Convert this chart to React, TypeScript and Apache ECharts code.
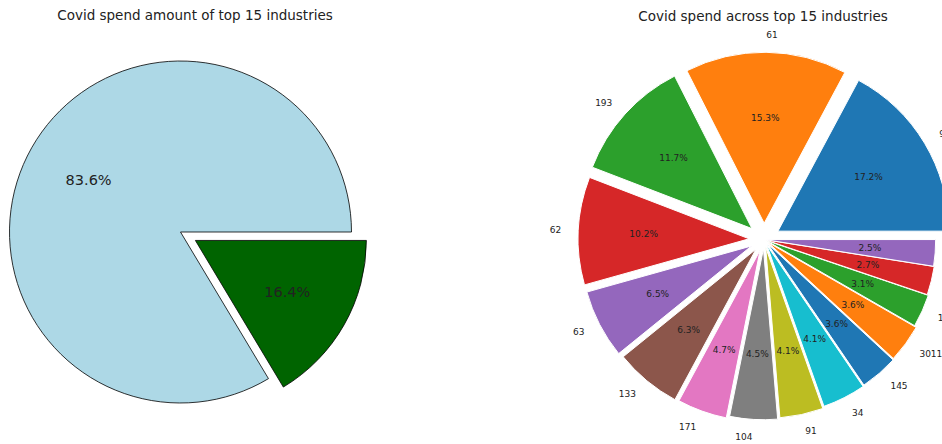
import React, { useEffect, useRef } from 'react';
import * as echarts from 'echarts';

// Left pie: share of covid spend
const overallNames = ['Other industries', 'Top 15 industries'];
const overallShares = [83.6, 16.4];
const overallColors = ['#add8e6', '#006400'];
const overallExplode = [0, 0.1];

// Right pie: top 15 industries
const industryCodes = ['92', '61', '193', '62', '63', '133', '171', '104', '91', '34', '145', '3011', '19', '56', '23'];
const industryShares = [17.2, 15.3, 11.7, 10.2, 6.5, 6.3, 4.7, 4.5, 4.1, 4.1, 3.6, 3.6, 3.1, 2.7, 2.5];
const industryExplode = [0.095, 0.095, 0.095, 0.087, 0.082, 0.073, 0.067, 0.054, 0.047, 0.037, 0.033, 0.028, 0.015, 0.008, 0.004];
const tab10 = ['#1f77b4', '#ff7f0e', '#2ca02c', '#d62728', '#9467bd', '#8c564b', '#e377c2', '#7f7f7f', '#bcbd22', '#17becf'];

const FONT = 'DejaVu Sans';
const TEXT = '#222';

type PieCfg = {
  names: string[];
  values: number[];
  colors: string[];
  explode: number[];
  center: [number, number];
  r: number;
  border: string;
  borderWidth: number;
  pctSize: number;
  showNames: boolean;
  nameSize: number;
};

function buildPie(cfg: PieCfg): any[] {
  const series: any[] = [];
  cfg.names.forEach((_, i) => {
    const base = {
      type: 'pie',
      center: cfg.center,
      startAngle: 0,
      clockwise: false,
      selectedMode: 'single',
      selectedOffset: cfg.explode[i] * cfg.r,
      avoidLabelOverlap: false,
      silent: true,
      emphasis: { disabled: true },
      animation: false,
    };
    // wedge + outer name label
    series.push({
      ...base,
      radius: cfg.r,
      label: {
        show: cfg.showNames,
        position: 'outside',
        distanceToLabelLine: 0,
        fontSize: cfg.nameSize,
        fontFamily: FONT,
        color: TEXT,
      },
      labelLine: { show: false, length: 0.1 * cfg.r, length2: 0 },
      data: cfg.names.map((name, j) => ({
        name,
        value: cfg.values[j],
        selected: j === i,
        itemStyle:
          j === i
            ? { color: cfg.colors[j], borderColor: cfg.border, borderWidth: cfg.borderWidth }
            : { color: 'rgba(0,0,0,0)', borderWidth: 0 },
        select: {
          itemStyle:
            j === i
              ? { color: cfg.colors[j], borderColor: cfg.border, borderWidth: cfg.borderWidth }
              : { color: 'rgba(0,0,0,0)', borderWidth: 0 },
        },
        label: { show: cfg.showNames && j === i },
      })),
    });
    // percentage label (inside of a 1.2r ring -> 0.6r)
    series.push({
      ...base,
      radius: cfg.r * 1.2,
      label: {
        show: true,
        position: 'inside',
        fontSize: cfg.pctSize,
        fontFamily: FONT,
        color: TEXT,
        formatter: (p: any) => Number(p.value).toFixed(1) + '%',
      },
      labelLine: { show: false },
      data: cfg.names.map((name, j) => ({
        name,
        value: cfg.values[j],
        selected: j === i,
        itemStyle: { color: 'rgba(0,0,0,0)', borderWidth: 0 },
        select: { itemStyle: { color: 'rgba(0,0,0,0)', borderWidth: 0 } },
        label: { show: j === i },
      })),
    });
  });
  return series;
}

export default function App() {
  const ref = useRef<HTMLDivElement>(null);
  useEffect(() => {
    if (!ref.current) return;
    const chart = echarts.init(ref.current, null, { renderer: 'svg' });
    const left = buildPie({
      names: overallNames,
      values: overallShares,
      colors: overallColors,
      explode: overallExplode,
      center: [180.5, 232],
      r: 171,
      border: '#000',
      borderWidth: 0.8,
      pctSize: 14.5,
      showNames: false,
      nameSize: 14,
    });
    const right = buildPie({
      names: industryCodes,
      values: industryShares,
      colors: industryCodes.map((_, i) => tab10[i % tab10.length]),
      explode: industryExplode,
      center: [764, 239.5],
      r: 171,
      border: '#fff',
      borderWidth: 1,
      pctSize: 9,
      showNames: true,
      nameSize: 9,
    });
    chart.setOption({
      animation: false,
      backgroundColor: '#fff',
      graphic: [
        {
          type: 'text',
          x: 195,
          y: 15,
          style: {
            text: 'Covid spend amount of top 15 industries',
            fontFamily: FONT,
            fontSize: 13.5,
            fill: TEXT,
            textAlign: 'center',
            textVerticalAlign: 'middle',
          },
        },
        {
          type: 'text',
          x: 763,
          y: 15.5,
          style: {
            text: 'Covid spend across top 15 industries',
            fontFamily: FONT,
            fontSize: 13.5,
            fill: TEXT,
            textAlign: 'center',
            textVerticalAlign: 'middle',
          },
        },
      ],
      series: [...left, ...right],
    });
    return () => chart.dispose();
  }, []);
  return (
    <div
      ref={ref}
      style={{ position: 'fixed', left: 0, top: 0, width: 942, height: 444, background: '#fff' }}
    />
  );
}
